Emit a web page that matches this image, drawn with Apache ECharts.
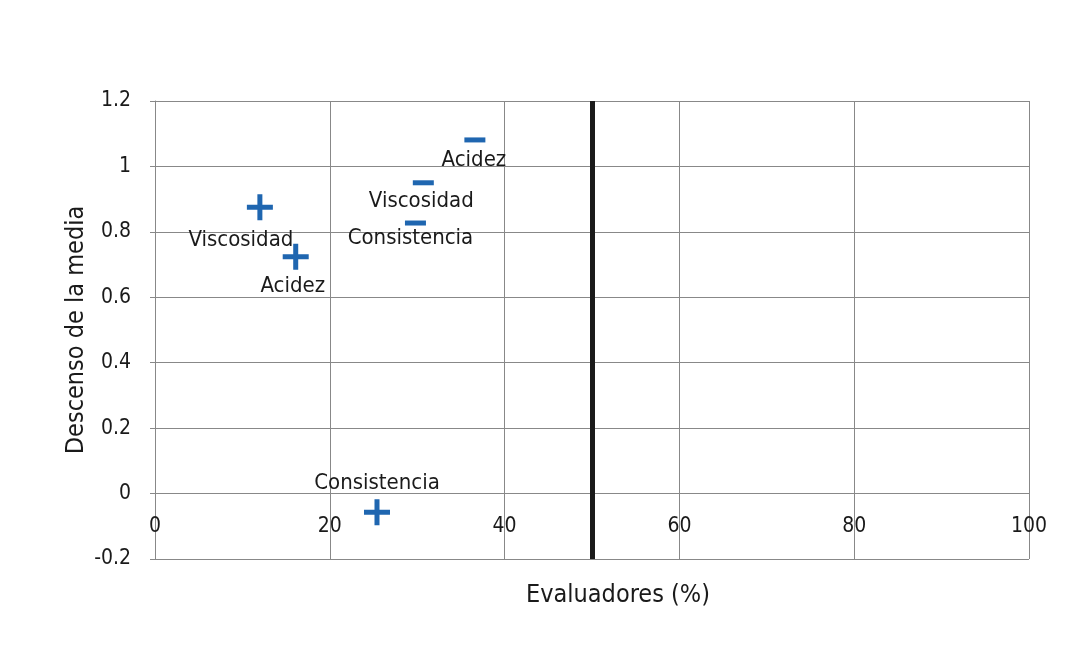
<!DOCTYPE html>
<html>
<head>
<meta charset="utf-8">
<script src="https://cdn.jsdelivr.net/npm/echarts@6/dist/echarts.min.js"></script>
<style>html,body{margin:0;padding:0;background:#fff;}#c{width:1071px;height:669px;}</style>
</head>
<body>
<div id="c"></div>
<script>
// Data
const attributes = ['Viscosidad', 'Acidez', 'Consistencia'];
const plusX = [12.0, 16.1, 25.4];
const plusY = [0.875, 0.724, -0.057];
const minusX = [30.7, 36.6, 29.8];
const minusY = [0.95, 1.081, 0.827];
const minusNames = ['Viscosidad', 'Acidez', 'Consistencia'];
const thresholdX = 50;
const xTicks = [0, 20, 40, 60, 80, 100];
const yTicks = [-0.2, 0, 0.2, 0.4, 0.6, 0.8, 1, 1.2];

// label placement (style, not data)
const plusOffsets = [[-19, 33], [-3, 30], [0, -29]];
const minusOffsets = [[-2, 18], [-1, 20], [-5, 15]];

const FONT = "'Liberation Sans Narrow', 'DejaVu Sans Condensed', sans-serif";
const TXT = '#1a1a1a';
const BLUE = '#1f66b0';

const plusPath = 'path://M10.5,0 h5 v10.5 h10.5 v5 h-10.5 v10.5 h-5 v-10.5 h-10.5 v-5 h10.5 z';

function mk(xs, ys, names, offs) {
  return xs.map((x, i) => ({
    name: names[i],
    value: [x, ys[i]],
    label: { offset: offs[i] }
  }));
}

const chart = echarts.init(document.getElementById('c'), null, { renderer: 'canvas' });
chart.setOption({
  animation: false,
  backgroundColor: '#fff',
  grid: { left: 155, right: 42, top: 101, bottom: 110, containLabel: false, outerBoundsMode: 'none' },
  xAxis: {
    type: 'value', min: 0, max: 100, interval: 20,
    position: 'bottom', offset: -66,
    name: 'Evaluadores (%)', nameLocation: 'middle', nameGap: 90, nameMoveOverlap: false,
    nameTextStyle: { fontFamily: FONT, fontSize: 25, color: TXT, padding: [0, 0, 0, 52] },
    axisLine: { onZero: false, lineStyle: { color: '#888', width: 1 } },
    axisTick: { show: false },
    axisLabel: { fontFamily: FONT, fontSize: 21, color: TXT, margin: 23,
      formatter: v => xTicks.includes(v) ? String(v) : '' },
    splitLine: { show: true, lineStyle: { color: '#888', width: 1 } }
  },
  yAxis: {
    type: 'value', min: -0.2, max: 1.2, interval: 0.2,
    name: 'Descenso de la media', nameLocation: 'middle', nameGap: 66, nameMoveOverlap: false,
    nameTextStyle: { fontFamily: FONT, fontSize: 25, color: TXT },
    axisLine: { show: true, onZero: false, lineStyle: { color: '#888', width: 1 } },
    axisTick: { show: true, length: 5, lineStyle: { color: '#888' } },
    axisLabel: { fontFamily: FONT, fontSize: 21, color: TXT, margin: 24,
      formatter: v => { const r = Math.round(v * 10) / 10; return String(r); } },
    splitLine: { show: true, lineStyle: { color: '#888', width: 1 } }
  },
  series: [
    {
      name: 'Aumento', type: 'scatter',
      symbol: plusPath, symbolSize: [26, 26],
      itemStyle: { color: BLUE, opacity: 1 },
      label: { show: true, position: 'inside', formatter: p => p.name,
        fontFamily: FONT, fontSize: 22, color: TXT, opacity: 1 },
      data: mk(plusX, plusY, attributes, plusOffsets),
      markLine: {
        silent: true, symbol: 'none', label: { show: false },
        lineStyle: { color: '#1a1a1a', width: 5, type: 'solid', opacity: 1 },
        data: [{ xAxis: thresholdX }]
      },
      z: 3
    },
    {
      name: 'Descenso', type: 'scatter',
      symbol: 'rect', symbolSize: [21, 5],
      itemStyle: { color: BLUE, opacity: 1 },
      label: { show: true, position: 'inside', formatter: p => p.name,
        fontFamily: FONT, fontSize: 22, color: TXT, opacity: 1 },
      data: mk(minusX, minusY, minusNames, minusOffsets),
      z: 3
    }
  ]
});
</script>
</body>
</html>
